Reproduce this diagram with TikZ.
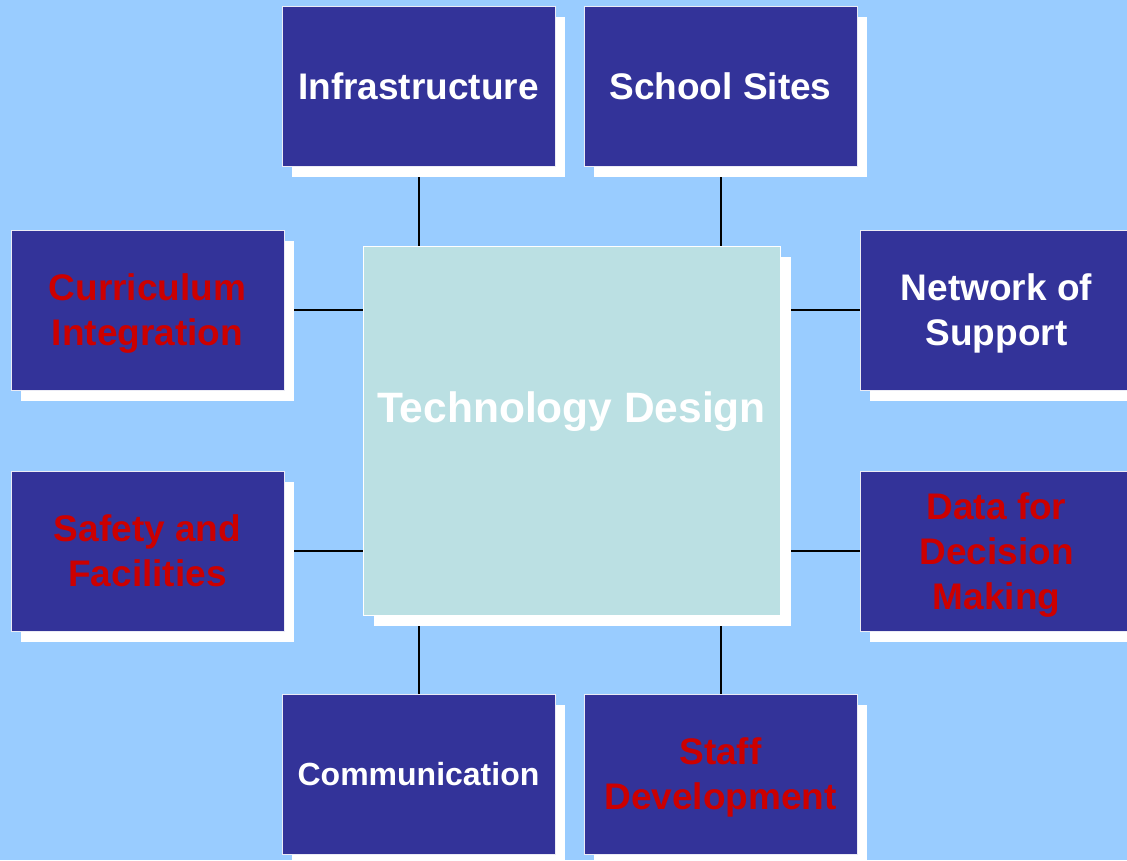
\documentclass[tikz,border=0pt]{standalone}
\usepackage{fontspec}
\setmainfont{Liberation Sans}
\usetikzlibrary{shadows}
\definecolor{bgblue}{HTML}{99CCFF}
\definecolor{boxblue}{HTML}{333399}
\definecolor{boxred}{HTML}{CC0000}
\definecolor{centerfill}{HTML}{BBE0E3}
\pgfdeclarelayer{bglayer}
\pgfdeclarelayer{linelayer}
\pgfsetlayers{bglayer,linelayer,main}
\begin{document}
\begin{tikzpicture}[x=1pt,y=-1pt,
  topicbox/.style={fill=boxblue, draw=white!90!boxblue, line width=1pt,
    minimum width=273pt, minimum height=160pt, inner sep=0pt,
    general shadow={fill=white, shadow xshift=10pt, shadow yshift=-11pt},
    align=center, font=\bfseries\fontsize{37}{45}\selectfont,
    text depth=0pt},
  whitetext/.style={text=white},
  redtext/.style={text=boxred},
  centerbox/.style={fill=centerfill, draw=white, line width=1pt,
    minimum width=417pt, minimum height=369pt, inner sep=0pt,
    general shadow={fill=white, shadow xshift=11pt, shadow yshift=-11pt}},
  link/.style={draw=black, line width=2pt}
]
\useasboundingbox (0,0) rectangle (1127,860);
\clip (0,0) rectangle (1127,860);
\begin{pgfonlayer}{bglayer}
\fill[bgblue] (0,0) rectangle (1127,860);
\end{pgfonlayer}

\node[centerbox] (center) at (571.5,430.5) {};
\node[text=white, font=\bfseries\fontsize{42.5}{50}\selectfont, text depth=0pt, inner sep=0pt] (tdlabel) at (571.5,407) {Technology Design};

\node[topicbox, whitetext] (infra) at (418.5,86) {Infrastructure};
\node[topicbox, whitetext] (school) at (720.5,86) {School Sites};
\node[topicbox, redtext] (curric) at (147.5,310) {Curriculum\\Integration};
\node[topicbox, whitetext] (network) at (996.5,310) {Network of\\Support};
\node[topicbox, redtext] (safety) at (147.5,551) {Safety and\\Facilities};
\node[topicbox, redtext] (data) at (996.5,551) {Data for\\Decision\\Making};
\node[topicbox, whitetext, font=\bfseries\fontsize{32}{38}\selectfont] (comm) at (418.5,774) {Communication};
\node[topicbox, redtext] (staff) at (720.5,774) {Staff\\Development};

\begin{pgfonlayer}{linelayer}
\draw[link] (infra.south) -- (infra.south |- center.north);
\draw[link] (school.south) -- (school.south |- center.north);
\draw[link] (comm.north) -- (comm.north |- center.south);
\draw[link] (staff.north) -- (staff.north |- center.south);
\draw[link] (curric.east) -- (curric.east -| center.west);
\draw[link] (safety.east) -- (safety.east -| center.west);
\draw[link] (network.west) -- (network.west -| center.east);
\draw[link] (data.west) -- (data.west -| center.east);
\end{pgfonlayer}
\end{tikzpicture}
\end{document}
